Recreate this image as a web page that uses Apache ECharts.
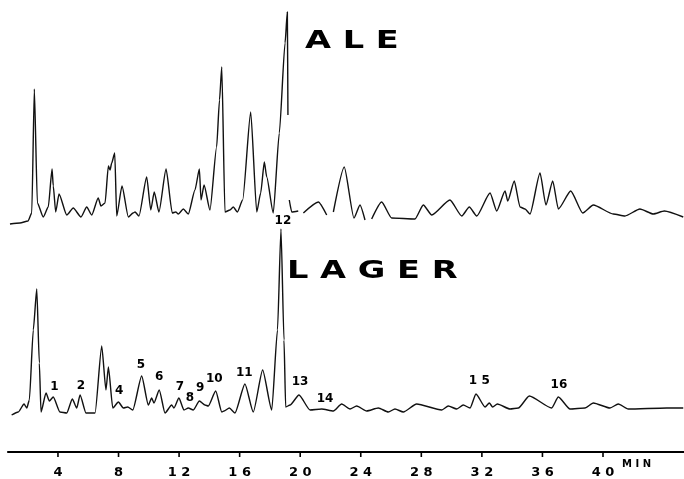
<!DOCTYPE html>
<html>
<head>
<meta charset="utf-8">
<script src="https://cdn.jsdelivr.net/npm/echarts@6/dist/echarts.min.js"></script>
<style>
html,body{margin:0;padding:0;background:#fff;}
#main{width:684px;height:479px;}
</style>
</head>
<body>
<div id="main"></div>
<script>
/*------------ 数据 ------------*/
// 保留时间 (min) 与信号高度, null = 笔迹断开
var aleTime = [0.83,1.49,2.02,2.27,2.44,2.64,3.03,3.36,3.61,3.69,3.85,4.07,4.58,5.01,5.52,5.90,6.23,6.66,6.84,7.11,
    7.33,7.44,7.55,7.75,7.88,8.23,8.65,8.96,9.09,9.35,9.86,10.13,10.36,10.67,11.14,11.55,11.78,11.95,12.28,12.61,
    13.05,13.34,13.45,13.65,14.04,14.48,14.67,14.82,15.03,15.36,15.58,15.85,16.20,16.73,17.13,17.39,17.63,17.79,18.22,18.62,
    19.00,19.15,19.19,19.23,19.28,19.44,19.87,20.04,20.21,21.20,21.75,21.97,22.19,22.91,23.55,23.95,24.28,24.50,24.72,25.38,
    26.04,27.58,28.13,28.69,29.89,30.67,31.17,31.66,32.54,32.98,33.53,33.71,34.14,34.52,34.85,35.18,35.84,36.23,36.68,37.05,
    37.87,38.66,39.36,40.68,41.45,42.44,43.32,44.05,45.30];
var aleSignal = [0,1,3,11,135,21,7,17,55,38,12,30,9,16,7,17,9,26,18,21,
    58,54,61,71,8,38,7,11,12,8,47,14,32,12,55,11,12,10,15,10,
    34,55,24,39,14,77,124,157,12,14,17,12,24,112,12,31,62,47,11,91,
    181,212,109,null,24,12,13,null,11,22,9,null,12,57,6,19,4,null,5,22,
    6,5,19,9,24,8,17,8,31,13,33,23,43,17,15,10,51,19,43,15,
    33,11,19,10,8,15,10,13,7];

var lagerTime = [0.94,1.38,1.76,1.94,2.11,2.37,2.60,2.77,2.88,3.21,3.43,3.69,4.13,4.58,4.95,5.24,5.46,5.85,6.45,6.89,
    7.17,7.33,7.62,7.99,8.32,8.61,8.94,9.53,9.97,10.19,10.34,10.69,11.07,11.51,11.66,11.99,12.32,12.61,12.94,13.34,
    13.71,13.93,14.42,14.82,14.97,15.32,15.69,16.35,16.90,17.52,18.12,18.50,18.73,18.93,19.04,19.33,19.92,20.65,21.42,22.19,
    22.74,23.29,23.73,24.39,25.16,25.82,26.26,26.81,27.69,29.35,29.78,30.34,30.77,31.22,31.61,32.21,32.49,32.71,33.02,33.86,
    34.41,35.13,36.61,37.05,37.82,38.81,39.36,40.46,41.01,41.67,44.21,45.30];
var lagerSignal = [0,3,11,7,15,85,126,52,3,22,14,18,3,2,16,7,20,2,2,69,
    25,48,7,13,7,8,5,39,10,17,12,25,2,10,7,17,5,7,5,14,
    10,9,24,3,4,7,2,31,3,45,5,85,186,75,8,10,20,5,6,4,
    11,6,9,4,7,3,6,3,11,5,9,6,10,7,21,8,12,8,11,6,
    7,19,7,18,6,7,12,7,11,6,7,7];

// 峰编号 (LAGER)
var peakNumbers   = ["1","2","4","5","6","7","8","9","10","11","12","13","14","1 5","16"];
var peakLabelTime = [3.76,5.52,8.05,9.48,10.69,12.06,12.72,13.40,14.33,16.31,18.86,19.99,21.64,31.83,37.09];
var peakLabelHigh = [27.7,29,24.3,50,37.7,27.7,16.7,26.7,35.7,41.7,194,33.3,15.7,34,30];

// 刻度
var tickMinutes = [4,8,12,16,20,24,28,32,36,40];

function toLine(times, values){
    return times.map(function(t,i){
        return values[i]==null ? [t,'-'] : [t,values[i]];
    });
}
var labelData = peakNumbers.map(function(n,i){ return [peakLabelTime[i], peakLabelHigh[i], n]; });
var tickData = tickMinutes.map(function(t){ return [t, 0.5]; });

var ink = '#111';
var tMin = 0.70, tMax = 45.35;
var myChart = echarts.init(document.getElementById('main'), null, {renderer:'canvas'});
var option = {
    animation:false,
    backgroundColor:'#fff',
    grid:[
        {left:8, right:0, top:0, height:229},
        {left:8, right:0, top:215, height:205},
        {left:8, right:0, top:452, height:5}     // 刻度线
    ],
    xAxis:[
        {gridIndex:0, type:'value', min:tMin, max:tMax, show:false},
        {gridIndex:1, type:'value', min:tMin, max:tMax, position:'bottom', offset:32,
            splitLine:{show:false},
            axisLine:{show:true, onZero:false, lineStyle:{color:'#000', width:2.2}},
            axisTick:{show:false},
            axisLabel:{show:true, customValues:tickMinutes, margin:14, color:'#000',
                fontFamily:'DejaVu Sans', fontWeight:'bold', fontSize:13,
                formatter:function(v){ return String(v).split('').join(' '); }}
        },
        {gridIndex:2, type:'value', min:tMin, max:tMax, show:false}
    ],
    yAxis:[
        {gridIndex:0, type:'value', min:-5, max:224, show:false},
        {gridIndex:1, type:'value', min:-5, max:200, show:false},
        {gridIndex:2, type:'value', min:0, max:1, show:false}
    ],
    graphic:[
        {type:'text', x:305, y:30, scaleX:1.4,
            style:{text:'A L E', font:'bold 24px "DejaVu Sans"', fill:'#000', textVerticalAlign:'top'}},
        {type:'text', x:287, y:260, scaleX:1.4,
            style:{text:'L A G E R', font:'bold 24px "DejaVu Sans"', fill:'#000', textVerticalAlign:'top'}},
        {type:'text', x:622, y:459,
            style:{text:'M I N', font:'bold 10px "DejaVu Sans"', fill:'#000', textVerticalAlign:'top'}}
    ],
    series:[
        {name:'ALE', type:'line', xAxisIndex:0, yAxisIndex:0, data:toLine(aleTime, aleSignal),
            showSymbol:false, symbol:'none', clip:false, connectNulls:false,
            smooth:0.2, smoothMonotone:'x',
            lineStyle:{color:ink, width:1.4}},
        {name:'LAGER', type:'line', xAxisIndex:1, yAxisIndex:1, data:toLine(lagerTime, lagerSignal),
            showSymbol:false, symbol:'none', clip:false,
            smooth:0.2, smoothMonotone:'x',
            lineStyle:{color:ink, width:1.4}},
        {name:'峰号', type:'scatter', xAxisIndex:1, yAxisIndex:1, data:labelData,
            symbolSize:0, clip:false, itemStyle:{opacity:1},
            label:{show:true, position:'inside', color:'#000', opacity:1, textBorderWidth:0,
                fontFamily:'DejaVu Sans', fontWeight:'bold', fontSize:12,
                formatter:function(p){ return p.data[2]; }}},
        {name:'刻度', type:'scatter', xAxisIndex:2, yAxisIndex:2, data:tickData,
            symbol:'rect', symbolSize:[1.6,5], clip:false, silent:true,
            itemStyle:{color:'#000', opacity:1}}
    ]
};
myChart.setOption(option);
</script>
</body>
</html>
